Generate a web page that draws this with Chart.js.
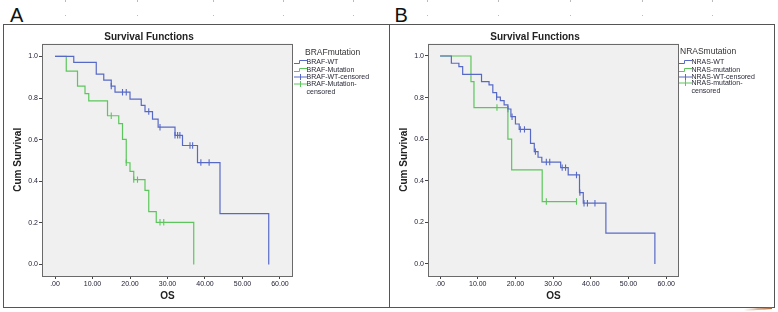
<!DOCTYPE html>
<html>
<head>
<meta charset="utf-8">
<script src="https://cdn.jsdelivr.net/npm/chart.js@4.4.0/dist/chart.umd.min.js"></script>
<style>
  body { margin: 0; width: 778px; height: 312px; background: #fff; position: relative; overflow: hidden;
         font-family: "Liberation Sans", Arial, sans-serif; }
  .frame { position: absolute; border: 1.5px solid #555; box-sizing: border-box; }
  .letter { position: absolute; font-size: 20px; line-height: 20px; color: #111; }
  canvas { position: absolute; }
  .lg { position: absolute; font-size: 7px; line-height: 8px; color: #2a2a3a; white-space: nowrap; }
  .lg.title { font-size: 8.5px; line-height: 10px; color: #333; }
  .lg svg { position: absolute; }
  .dot { position: absolute; width: 1px; height: 2px; background: #bbb; }
  .swoosh { position: absolute; left: 744px; top: 308px; width: 28px; height: 2px;
            background: linear-gradient(to right, rgba(176,100,58,0), #a8602e); transform: rotate(-4deg); }
</style>
</head>
<body>
<div class="letter" style="left:10px;top:4.5px">A</div>
<div class="letter" style="left:394.5px;top:4.5px">B</div>
<div class="frame" style="left:3px;top:23.5px;width:387px;height:284.5px"></div>
<div class="frame" style="left:388.5px;top:23.5px;width:386.5px;height:284.5px"></div>
<canvas id="chartA" width="382" height="280" style="left:5px;top:26px"></canvas>
<canvas id="chartB" width="382" height="280" style="left:391px;top:26px"></canvas>
<div id="legends"></div>
<div class="swoosh"></div>

<script>
// tick values and labels
const xTickValues = [0, 10, 20, 30, 40, 50, 60];
const xTickLabels = ['.00', '10.00', '20.00', '30.00', '40.00', '50.00', '60.00'];
const yTickValues = [0, 0.2, 0.4, 0.6, 0.8, 1.0];
const yTickLabels = ['0.0', '0.2', '0.4', '0.6', '0.8', '1.0'];

// panel A: BRAF
const brafWtTime = [0, 5, 11, 13, 15, 16, 20, 23, 24, 26, 27.5, 32, 34, 38, 44, 57];
const brafWtSurv = [1, 0.971, 0.915, 0.886, 0.857, 0.828, 0.795, 0.765, 0.735, 0.699, 0.66, 0.621, 0.572, 0.49, 0.245, 0];
const brafWtCensTime = [15, 18, 19, 25, 28, 32, 32.7, 33.3, 36, 36.7, 38.9, 41.1];
const brafWtCensSurv = [0.857, 0.828, 0.828, 0.735, 0.66, 0.621, 0.621, 0.621, 0.572, 0.572, 0.49, 0.49];
const brafMutTime = [0, 3, 6, 8, 9, 14, 17, 18, 19, 20, 21, 24, 25, 27, 37];
const brafMutSurv = [1, 0.929, 0.857, 0.821, 0.786, 0.715, 0.677, 0.601, 0.489, 0.448, 0.408, 0.356, 0.254, 0.203, 0];
const brafMutCensTime = [15, 19, 21, 22, 28, 29];
const brafMutCensSurv = [0.715, 0.489, 0.408, 0.408, 0.203, 0.203];

// panel B: NRAS
const nrasWtTime = [0, 3, 5, 6, 11, 13, 14, 15, 16, 17, 18, 18.8, 20, 21, 24, 25, 26, 27, 32, 34, 37, 38, 44, 57];
const nrasWtSurv = [1, 0.965, 0.949, 0.912, 0.877, 0.861, 0.824, 0.802, 0.785, 0.765, 0.745, 0.708, 0.673, 0.647,
                    0.58, 0.54, 0.513, 0.49, 0.463, 0.428, 0.343, 0.292, 0.148, 0];
const nrasWtCensTime = [15, 18, 19.1, 21.3, 22.4, 25.3, 28.2, 29.1, 32.4, 33.3, 36.2, 37.1, 38.2, 39.1, 41.1];
const nrasWtCensSurv = [0.802, 0.745, 0.708, 0.647, 0.647, 0.54, 0.49, 0.49, 0.463, 0.463, 0.428, 0.343, 0.292, 0.292, 0.292];
const nrasMutTime = [0, 8.2, 9, 18, 19, 27.1, 36.2];
const nrasMutSurv = [1, 0.877, 0.752, 0.6, 0.452, 0.3, 0.3];
const nrasMutCensTime = [15.1, 28.2, 36.2];
const nrasMutCensSurv = [0.752, 0.3, 0.3];

const blue = '#5769c6';
const green = '#5cc65c';
const fontFamily = '"Liberation Sans", Arial, sans-serif';

const toPoints = (xs, ys) => xs.map((x, i) => ({ x, y: ys[i] }));

// Kaplan-Meier style: hold the value, then drop at the next time
const curve = (label, xs, ys, color) => ({
    label,
    data: toPoints(xs, ys),
    stepped: 'before',
    borderColor: color,
    borderWidth: 1.2,
    pointRadius: 0,
    fill: false
});

const censored = (label, xs, ys, color) => ({
    label,
    data: toPoints(xs, ys),
    showLine: false,
    pointStyle: 'line',
    rotation: 90,
    pointRadius: 3.2,
    pointBorderWidth: 1.1,
    pointBorderColor: color,
    borderColor: color
});

const plotFrame = {
    id: 'plotFrame',
    beforeDraw(chart) {
        const { ctx, chartArea: a } = chart;
        ctx.save();
        ctx.fillStyle = '#f0f0f0';
        ctx.fillRect(a.left, a.top, a.width, a.height);
        ctx.restore();
    },
    afterDraw(chart) {
        const { ctx, chartArea: a } = chart;
        ctx.save();
        ctx.strokeStyle = '#6a6a6a';
        ctx.lineWidth = 1;
        ctx.strokeRect(Math.round(a.left) + 0.5, Math.round(a.top) + 0.5,
                       Math.round(a.width) - 1, Math.round(a.height) - 1);
        ctx.restore();
    }
};

const makeChart = (id, datasets, axis) => {
    new Chart(document.getElementById(id), {
        type: 'line',
        data: { datasets },
        plugins: [plotFrame],
        options: {
            responsive: false,
            animation: false,
            devicePixelRatio: 1,
            layout: { padding: { top: 0, right: 94, left: 0, bottom: 0 } },
            plugins: {
                legend: { display: false },
                tooltip: { enabled: false },
                title: {
                    display: true,
                    text: 'Survival Functions',
                    color: '#222',
                    font: { family: fontFamily, size: 10, weight: 'bold', lineHeight: 1.2 },
                    padding: { top: 5, bottom: 0.5 }
                }
            },
            scales: {
                x: {
                    type: 'linear',
                    min: axis.xMin,
                    max: axis.xMax,
                    afterFit: s => { s.height = 30; },
                    afterBuildTicks: s => { s.ticks = xTickValues.map(v => ({ value: v })); },
                    border: { display: false },
                    grid: { drawOnChartArea: false, drawTicks: true, tickLength: 3, color: '#444', tickColor: '#444' },
                    ticks: {
                        padding: 1,
                        color: '#222238',
                        maxRotation: 0,
                        font: { family: fontFamily, size: 7 },
                        callback: (v) => xTickLabels[xTickValues.indexOf(v)]
                    },
                    title: {
                        display: true,
                        text: 'OS',
                        color: '#222',
                        font: { family: fontFamily, size: 10, weight: 'bold', lineHeight: 1.2 },
                        padding: { top: 0, bottom: 4 }
                    }
                },
                y: {
                    type: 'linear',
                    min: axis.yMin,
                    max: axis.yMax,
                    afterFit: s => { s.width = axis.yWidth; },
                    afterBuildTicks: s => { s.ticks = yTickValues.map(v => ({ value: v })); },
                    border: { display: false },
                    grid: { drawOnChartArea: false, drawTicks: true, tickLength: 3, color: '#444', tickColor: '#444' },
                    ticks: {
                        padding: 1,
                        color: '#222238',
                        font: { family: fontFamily, size: 7 },
                        callback: (v) => yTickLabels[yTickValues.findIndex(t => Math.abs(t - v) < 1e-6)]
                    },
                    title: {
                        display: true,
                        text: 'Cum Survival',
                        color: '#222',
                        font: { family: fontFamily, size: 10, weight: 'bold', lineHeight: 1.2 },
                        padding: { top: 7, bottom: 0 }
                    }
                }
            }
        }
    });
};

makeChart('chartA', [
    curve('BRAF-WT', brafWtTime, brafWtSurv, blue),
    curve('BRAF-Mutation', brafMutTime, brafMutSurv, green),
    censored('BRAF-WT-censored', brafWtCensTime, brafWtCensSurv, blue),
    censored('BRAF-Mutation-censored', brafMutCensTime, brafMutCensSurv, green)
], { xMin: -3.47, xMax: 63.47, yMin: -0.055, yMax: 1.062, yWidth: 37 });

makeChart('chartB', [
    curve('NRAS-WT', nrasWtTime, nrasWtSurv, blue),
    curve('NRAS-mutation', nrasMutTime, nrasMutSurv, green),
    censored('NRAS-WT-censored', nrasWtCensTime, nrasWtCensSurv, blue),
    censored('NRAS-mutation-censored', nrasMutCensTime, nrasMutCensSurv, green)
], { xMin: -3.2, xMax: 63.4, yMin: -0.058, yMax: 1.06, yWidth: 37 });

// legends (SPSS style, to the right of each plot)
const stepIcon = c => `<svg width="13" height="8" style="left:-13px;top:0"><path d="M0 5.5H5.5V2.5H13" stroke="${c}" fill="none" stroke-width="1"/></svg>`;
const censIcon = c => `<svg width="13" height="8" style="left:-13px;top:0"><path d="M0 4H13M6.5 1V7" stroke="${c}" fill="none" stroke-width="1"/></svg>`;

const legendSpecs = [
    { x: 305, textX: 306.5, title: 'BRAFmutation', titleY: 52.3,
      rows: [['BRAF-WT', 61.7, stepIcon(blue)], ['BRAF-Mutation', 70, stepIcon(green)],
             ['BRAF-WT-censored', 77.3, censIcon(blue)], ['BRAF-Mutation-<br>censored', 84, censIcon(green)]] },
    { x: 680, textX: 691.5, title: 'NRASmutation', titleY: 51,
      rows: [['NRAS-WT', 61.7, stepIcon(blue)], ['NRAS-mutation', 69.7, stepIcon(green)],
             ['NRAS-WT-censored', 76.7, censIcon(blue)], ['NRAS-mutation-<br>censored', 83.3, censIcon(green)]] }
];

const holder = document.getElementById('legends');
legendSpecs.forEach(spec => {
    holder.insertAdjacentHTML('beforeend',
        `<div class="lg title" style="left:${spec.x}px;top:${spec.titleY - 5}px">${spec.title}</div>`);
    spec.rows.forEach(([text, cy, icon]) => {
        holder.insertAdjacentHTML('beforeend',
            `<div class="lg" style="left:${spec.textX}px;top:${cy - 4}px">${icon}${text}</div>`);
    });
});

// faint marks along the top edge
const topMarks = [65, 137, 213, 283, 353, 427, 498, 570, 642, 712];
topMarks.forEach(x => {
    holder.insertAdjacentHTML('beforeend', `<div class="dot" style="left:${x}px;top:0"></div>`);
    holder.insertAdjacentHTML('beforeend', `<div class="dot" style="left:${x}px;top:15px;height:1px"></div>`);
});
</script>
</body>
</html>
